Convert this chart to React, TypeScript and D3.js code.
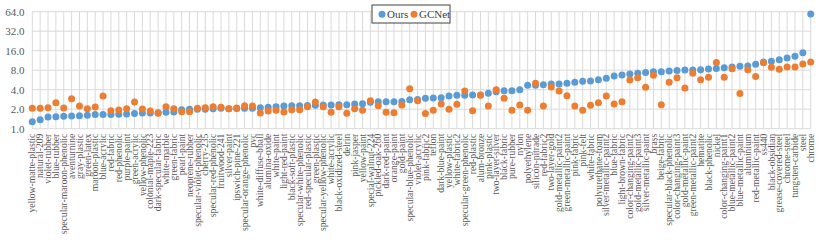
import React, { useRef, useEffect } from "react";
import { select, scaleLog, scalePoint, format } from "d3";

const materials = [
  "yellow-matte-plastic", "natural-209", "violet-rubber", "blue-rubber",
  "specular-maroon-phenolic", "aventurnine", "gray-plastic", "green-latex",
  "maroon-plastic", "blue-acrylic", "red-fabric", "red-phenolic",
  "purple-paint", "green-acrylic", "yellow-phenolic", "colonial-maple-223",
  "dark-specular-fabric", "white-marble", "green-fabric", "pearl-paint",
  "neoprene-rubber", "specular-violet-phenolic", "cherry-235",
  "specular-red-phenolic", "fruitwood-241", "silver-paint", "ipswich-pine-221",
  "specular-orange-phenolic", "pvc", "white-diffuse-bball", "alumina-oxide",
  "white-paint", "light-red-paint", "black-soft-plastic",
  "specular-white-phenolic", "red-specular-plastic", "green-plastic",
  "specular-yellow-phenolic", "white-acrylic", "black-oxidized-steel",
  "delrin", "pink-jasper", "yellow-paint", "special-walnut-224",
  "pickled-oak-260", "dark-red-paint", "orange-paint", "gold-paint",
  "specular-blue-phenolic", "violet-acrylic", "pink-fabric2", "teflon",
  "dark-blue-paint", "yellow-plastic", "white-fabric2",
  "specular-green-phenolic", "red-plastic", "alum-bronze", "pink-plastic",
  "two-layer-silver", "black-fabric", "pure-rubber", "nylon", "polyethylene",
  "silicon-nitrade", "red-fabric2", "two-layer-gold", "gold-metallic-paint2",
  "green-metallic-paint", "pink-fabric", "pink-felt", "white-fabric",
  "polyurethane-foam", "silver-metallic-paint2", "blue-fabric",
  "light-brown-fabric", "color-changing-paint2", "gold-metallic-paint3",
  "silver-metallic-paint", "brass", "beige-fabric", "specular-black-phenolic",
  "color-changing-paint3", "gold-metallic-paint", "green-metallic-paint2",
  "hematite", "black-phenolic", "nickel", "color-changing-paint1",
  "blue-metallic-paint2", "blue-metallic-paint", "aluminium",
  "red-metallic-paint", "ss440", "black-obsidian", "grease-covered-steel",
  "chrome-steel", "tungsten-carbide", "steel", "chrome",
];

const ours = [
  1.28, 1.38, 1.52, 1.53, 1.55, 1.57, 1.59, 1.61, 1.65, 1.65,
  1.65, 1.67, 1.69, 1.71, 1.75, 1.75, 1.76, 1.79, 1.81, 1.97,
  1.99, 1.99, 2.0, 2.04, 2.06, 2.04, 2.05, 2.06, 2.06, 2.11,
  2.14, 2.19, 2.24, 2.27, 2.27, 2.28, 2.3, 2.32, 2.33, 2.34,
  2.35, 2.4, 2.43, 2.55, 2.61, 2.61, 2.61, 2.62, 2.81, 2.82,
  2.94, 2.98, 3.0, 3.2, 3.27, 3.28, 3.31, 3.31, 3.52, 3.73,
  3.86, 3.86, 4.0, 4.67, 4.67, 4.78, 4.9, 4.9, 5.02, 5.21,
  5.4, 5.45, 5.7, 6.0, 6.5, 6.74, 7.0, 7.17, 7.4, 7.58,
  7.58, 7.77, 7.95, 8.04, 8.04, 8.14, 8.34, 8.53, 8.75, 8.95,
  9.17, 9.27, 9.85, 10.7, 10.95, 11.6, 12.3, 13.1, 14.9, 58.9,
];

const gcnet = [
  2.06, 2.06, 2.11, 2.52, 2.09, 2.91, 2.24, 2.03, 2.16, 3.2,
  1.9, 1.94, 2.04, 2.58, 2.01, 1.88, 1.73, 2.19, 2.04, 1.83,
  1.83, 2.06, 2.11, 2.19, 2.14, 2.04, 2.09, 2.27, 2.24, 1.75,
  1.88, 1.92, 1.81, 1.97, 1.97, 2.19, 2.58, 2.19, 1.79, 2.19,
  1.73, 2.04, 1.92, 2.71, 2.27, 1.79, 1.77, 2.32, 4.15, 2.71,
  1.71, 1.92, 2.4, 1.99, 2.38, 3.82, 1.9, 3.27, 2.24, 4.0,
  2.95, 1.92, 2.32, 1.93, 5.02, 2.24, 4.4, 3.82, 3.23, 2.24,
  1.92, 2.3, 2.52, 3.2, 2.41, 2.61, 5.64, 6.13, 4.35, 6.66,
  2.35, 5.19, 6.13, 4.24, 7.15, 5.7, 6.2, 10.56, 6.2, 8.44,
  3.51, 8.14, 6.42, 10.44, 8.85, 8.24, 8.95, 8.95, 9.97, 10.7,
];

const yTicks = [1, 2, 4, 8, 16, 32, 64];

const series = [
  { name: "Ours", values: ours, color: "#5B9BD5" },
  { name: "GCNet", values: gcnet, color: "#ED7D31" },
];

export default function App() {
  const svgRef = useRef(null);
  const width = 823;
  const height = 244;

  useEffect(() => {
    const svg = select(svgRef.current);
    svg.selectAll("*").remove();

    const xScale = scalePoint().domain(materials).range([32.3, 810.7]);
    const yScale = scaleLog().base(2).domain([1, 64]).range([128.7, 11.7]);
    const fmt = format(".1f");
    const font = "'Liberation Serif', 'Times New Roman', serif";

    // gridlines
    svg
      .append("g")
      .selectAll("line")
      .data(materials)
      .join("line")
      .attr("x1", (d) => xScale(d))
      .attr("x2", (d) => xScale(d))
      .attr("y1", yScale(64))
      .attr("y2", yScale(1))
      .attr("stroke", "#d9d9d9")
      .attr("stroke-width", 1);

    svg
      .append("g")
      .selectAll("line")
      .data(yTicks)
      .join("line")
      .attr("x1", xScale.range()[0])
      .attr("x2", xScale.range()[1])
      .attr("y1", (d) => yScale(d))
      .attr("y2", (d) => yScale(d))
      .attr("stroke", "#d9d9d9")
      .attr("stroke-width", 1);

    // y tick labels
    svg
      .append("g")
      .selectAll("text")
      .data(yTicks)
      .join("text")
      .attr("x", 24.5)
      .attr("y", (d) => yScale(d))
      .attr("dy", "0.35em")
      .attr("text-anchor", "end")
      .attr("font-family", font)
      .attr("font-size", 11)
      .attr("fill", "#595959")
      .text((d) => fmt(d));

    // x tick labels
    svg
      .append("g")
      .selectAll("text")
      .data(materials)
      .join("text")
      .attr(
        "transform",
        (d) => `translate(${xScale(d)},${yScale(1) + 5}) rotate(-90)`
      )
      .attr("dy", "0.33em")
      .attr("text-anchor", "end")
      .attr("font-family", font)
      .attr("font-size", 9.6)
      .attr("fill", "#595959")
      .text((d) => d);

    // dots
    series.forEach((s) => {
      svg
        .append("g")
        .selectAll("circle")
        .data(s.values)
        .join("circle")
        .attr("cx", (d, i) => xScale(materials[i]))
        .attr("cy", (d) => yScale(d))
        .attr("r", 3.5)
        .attr("fill", s.color);
    });

    // legend
    const legend = svg.append("g").attr("transform", "translate(372,5)");
    legend
      .append("rect")
      .attr("width", 78)
      .attr("height", 18)
      .attr("fill", "white")
      .attr("stroke", "#404040")
      .attr("stroke-width", 1);
    const items = [
      { x: 10, tx: 15 },
      { x: 42, tx: 47 },
    ];
    series.forEach((s, i) => {
      legend
        .append("circle")
        .attr("cx", items[i].x)
        .attr("cy", 9.3)
        .attr("r", 3.5)
        .attr("fill", s.color);
      legend
        .append("text")
        .attr("x", items[i].tx)
        .attr("y", 9.3)
        .attr("dy", "0.35em")
        .attr("font-family", font)
        .attr("font-size", 11)
        .attr("fill", "#404040")
        .text(s.name);
    });
  }, []);

  return (
    <svg
      ref={svgRef}
      width={width}
      height={height}
      style={{ position: "absolute", left: 0, top: 0, background: "white" }}
    />
  );
}
